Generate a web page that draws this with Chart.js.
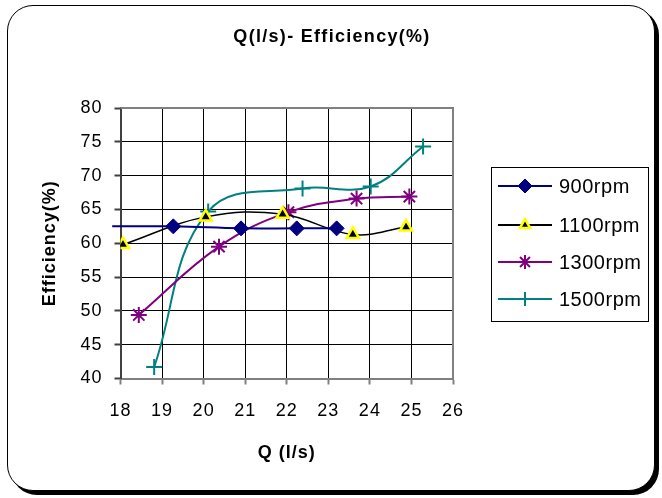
<!DOCTYPE html>
<html>
<head>
<meta charset="utf-8">
<script src="https://cdn.jsdelivr.net/npm/chart.js@4/dist/chart.umd.min.js"></script>
<style>
  html, body { margin: 0; padding: 0; background: #fff; }
  #wrap { position: relative; width: 662px; height: 498px; }
  #frame {
    position: absolute; left: 7px; top: 5px; width: 646px; height: 484px;
    border: 1px solid #000; border-radius: 26px;
    box-shadow: 4px 4px 0 #000; background: #fff;
  }
  canvas { position: absolute; left: 0; top: 0; }
</style>
</head>
<body>
<div id="wrap">
  <div id="frame"></div>
  <canvas id="chart" width="662" height="498"></canvas>
</div>
<script>
// Datos
const chartTitle = 'Q(l/s)- Efficiency(%)';
const seriesNames = ['900rpm', '1100rpm', '1300rpm', '1500rpm'];

const q900 = [17.8, 19.27, 20.9, 22.24, 23.2];
const eff900 = [62.5, 62.5, 62.2, 62.2, 62.2];

const q1100 = [18.06, 20.05, 21.9, 23.59, 24.87];
const eff1100 = [59.8, 63.9, 64.3, 61.3, 62.4];

const q1300 = [18.44, 20.37, 22.04, 23.68, 24.95];
const eff1300 = [49.4, 59.5, 64.6, 66.6, 66.9];

const q1500 = [18.81, 20.11, 22.38, 24.02, 25.28];
const eff1500 = [41.7, 64.7, 68.1, 68.4, 74.3];

const yTicks = [40, 45, 50, 55, 60, 65, 70, 75, 80];

function toPoints(xs, ys) {
    return xs.map((x, i) => ({ x: x, y: ys[i] }));
}

const FONT = "'Liberation Sans', Arial, sans-serif";

// Espaciado de letras para imitar el texto ensanchado del original
const spacingPlugin = {
    id: 'spacing',
    beforeDraw(chart) {
        chart.ctx.letterSpacing = '1px';
    }
};

// Título centrado sobre todo el lienzo
const titlePlugin = {
    id: 'customTitle',
    afterDraw(chart) {
        const ctx = chart.ctx;
        ctx.save();
        ctx.letterSpacing = '1.3px';
        ctx.fillStyle = '#000';
        ctx.font = 'bold 18px ' + FONT;
        ctx.textAlign = 'center';
        ctx.textBaseline = 'middle';
        ctx.fillText(chartTitle, 332, 37);
        ctx.restore();
    }
};

// Leyenda dibujada a mano en el canvas
const legendPlugin = {
    id: 'customLegend',
    afterDraw(chart) {
        const ctx = chart.ctx;
        const left = 491, top = 167, w = 157, h = 154;
        ctx.save();
        ctx.strokeStyle = '#000';
        ctx.lineWidth = 1;
        ctx.strokeRect(left + 0.5, top + 0.5, w, h);
        const rows = [186, 225, 262, 299];
        chart.data.datasets.forEach((ds, i) => {
            const y = rows[i];
            ctx.strokeStyle = ds.borderColor;
            ctx.lineWidth = 2;
            ctx.beginPath();
            ctx.moveTo(498, y);
            ctx.lineTo(552, y);
            ctx.stroke();
            ctx.fillStyle = ds.pointBackgroundColor;
            ctx.strokeStyle = ds.pointBorderColor;
            ctx.lineWidth = ds.pointBorderWidth;
            Chart.helpers.drawPoint(ctx, {
                pointStyle: ds.pointStyle,
                radius: ds.legendRadius,
                borderWidth: ds.pointBorderWidth,
                rotation: 0
            }, 525, y);
            ctx.fillStyle = '#000';
            ctx.letterSpacing = '0.5px';
            ctx.font = '20px ' + FONT;
            ctx.textBaseline = 'middle';
            ctx.textAlign = 'left';
            ctx.fillText(ds.label, 559, y + 1);
        });
        ctx.restore();
    }
};

// Marco gris del área de trazado
const plotBorder = {
    id: 'plotBorder',
    beforeDatasetsDraw(chart) {
        const a = chart.chartArea;
        const ctx = chart.ctx;
        ctx.save();
        ctx.strokeStyle = '#808080';
        ctx.lineWidth = 2;
        ctx.beginPath();
        ctx.moveTo(a.left, a.top);
        ctx.lineTo(a.right, a.top);
        ctx.lineTo(a.right, a.bottom);
        ctx.stroke();
        ctx.restore();
    }
};

const ctx = document.getElementById('chart').getContext('2d');
new Chart(ctx, {
    type: 'line',
    data: {
        datasets: [
            {
                label: seriesNames[0],
                data: toPoints(q900, eff900),
                borderColor: '#000080',
                borderWidth: 2,
                pointStyle: 'rectRot',
                pointRadius: [0, 7.5, 7.5, 7.5, 7.5],
                legendRadius: 7,
                pointBackgroundColor: '#000080',
                pointBorderColor: '#000080',
                pointBorderWidth: 1,
                tension: 0.4,
                clip: false
            },
            {
                label: seriesNames[1],
                data: toPoints(q1100, eff1100),
                borderColor: '#000000',
                borderWidth: 1.5,
                pointStyle: 'triangle',
                pointRadius: 7,
                legendRadius: 6,
                pointBackgroundColor: '#000000',
                pointBorderColor: '#ffff00',
                pointBorderWidth: 2.5,
                tension: 0.4
            },
            {
                label: seriesNames[2],
                data: toPoints(q1300, eff1300),
                borderColor: '#800080',
                borderWidth: 2,
                pointStyle: 'star',
                pointRadius: 8,
                legendRadius: 7,
                pointBackgroundColor: '#800080',
                pointBorderColor: '#800080',
                pointBorderWidth: 2,
                tension: 0.4
            },
            {
                label: seriesNames[3],
                data: toPoints(q1500, eff1500),
                borderColor: '#008080',
                borderWidth: 2,
                pointStyle: 'cross',
                pointRadius: 8,
                legendRadius: 7,
                pointBackgroundColor: '#008080',
                pointBorderColor: '#008080',
                pointBorderWidth: 2,
                tension: 0.4
            }
        ]
    },
    options: {
        responsive: false,
        animation: false,
        layout: {
            padding: { left: 0, top: 108, right: 209, bottom: 0 }
        },
        plugins: {
            legend: { display: false },
            tooltip: { enabled: false },
            title: { display: false }
        },
        scales: {
            x: {
                type: 'linear',
                min: 18,
                max: 26,
                ticks: {
                    stepSize: 1,
                    color: '#000',
                    padding: 16,
                    font: { family: FONT, size: 18 }
                },
                grid: { color: '#000', lineWidth: 1, tickLength: 6, tickColor: '#808080', tickWidth: 2 },
                border: { color: '#808080', width: 2 },
                title: {
                    display: true,
                    text: 'Q (l/s)',
                    color: '#000',
                    font: { family: FONT, size: 18, weight: 'bold' },
                    padding: { top: 0, bottom: 34 }
                },
                afterFit(scale) { scale.height = 119.5; }
            },
            y: {
                min: 40,
                max: 80,
                afterBuildTicks(scale) { scale.ticks = yTicks.map(v => ({ value: v })); },
                ticks: {
                    color: '#000',
                    padding: 12,
                    font: { family: FONT, size: 18 }
                },
                grid: { color: '#000', lineWidth: 1, tickLength: 6, tickColor: '#404040', tickWidth: 2 },
                border: { color: '#404040', width: 2 },
                title: {
                    display: true,
                    text: 'Efficiency(%)',
                    color: '#000',
                    font: { family: FONT, size: 18, weight: 'bold' },
                    padding: { top: 39, bottom: 0 }
                },
                afterFit(scale) { scale.width = 120.5; }
            }
        }
    },
    plugins: [spacingPlugin, plotBorder, titlePlugin, legendPlugin]
});
</script>
</body>
</html>
